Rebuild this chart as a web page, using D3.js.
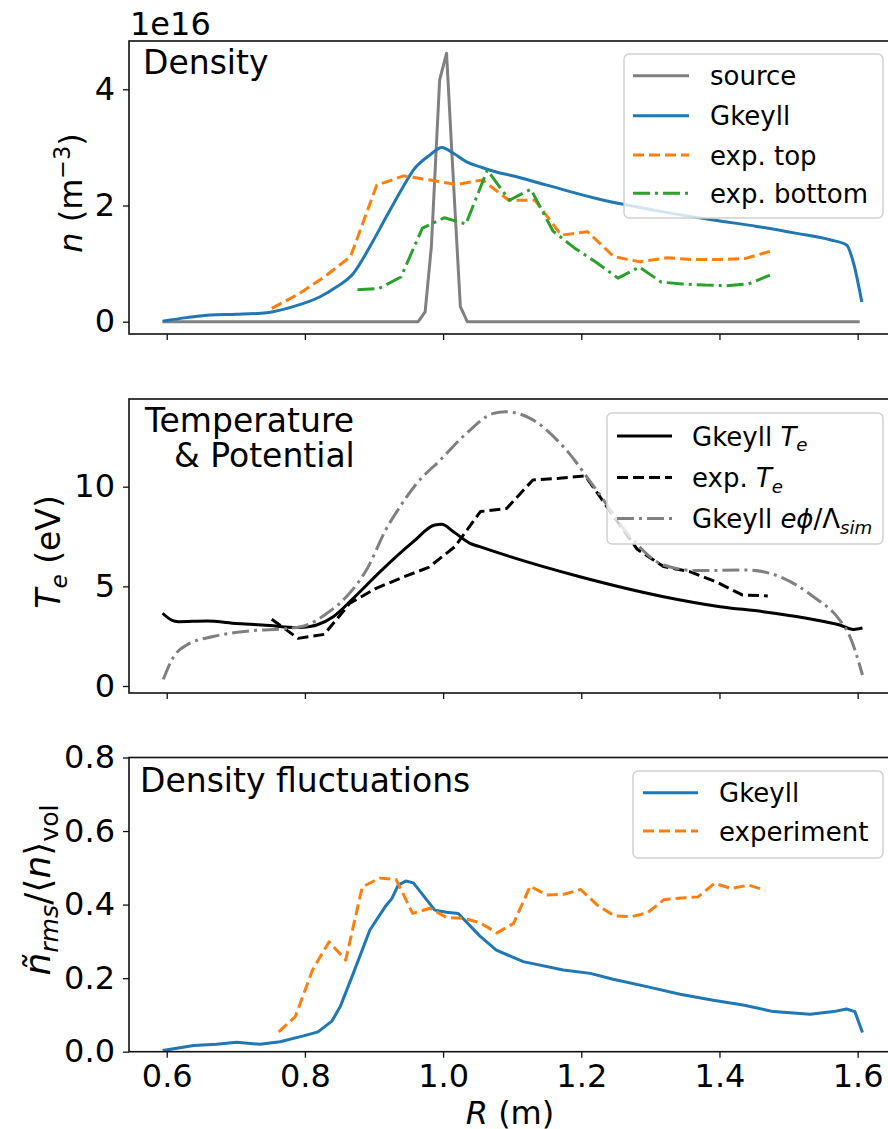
<!DOCTYPE html>
<html lang="en">
<head>
<meta charset="UTF-8">
<title>profiles</title>
<script src="https://d3js.org/d3.v7.min.js"></script>
<style>
    body { margin: 0; background: #fff; }
    svg { display: block; font-family: "DejaVu Sans", sans-serif; }
</style>
</head>
<body>
<div id="chart"></div>
<script>
// ---- data (R in m) ----
// panel 1: density, 1e16 m^-3
const srcR = [0.594, 0.964, 0.974, 0.983, 0.995, 1.005, 1.015, 1.025, 1.035, 1.603];
const srcN = [0, 0, 0.17, 1.29, 4.16, 4.62, 2.4, 0.26, 0, 0];

const gkDenR = [0.594, 0.629, 0.663, 0.701, 0.745, 0.783, 0.822, 0.846, 0.870, 0.894, 0.918, 0.942, 0.957, 0.981, 0.998, 1.015, 1.034, 1.055, 1.082, 1.097, 1.150, 1.222, 1.319, 1.391, 1.454, 1.512, 1.560, 1.584, 1.594, 1.606];
const gkDenN = [0.01, 0.07, 0.115, 0.127, 0.155, 0.26, 0.43, 0.60, 0.83, 1.29, 1.81, 2.32, 2.61, 2.87, 3.0, 2.90, 2.75, 2.66, 2.56, 2.52, 2.35, 2.12, 1.89, 1.75, 1.64, 1.52, 1.41, 1.32, 1.01, 0.34];

const topR = [0.752, 0.790, 0.828, 0.866, 0.904, 0.943, 0.981, 1.019, 1.057, 1.095, 1.133, 1.171, 1.209, 1.247, 1.285, 1.324, 1.362, 1.400, 1.438, 1.476];
const topN = [0.23, 0.47, 0.77, 1.12, 2.35, 2.51, 2.44, 2.36, 2.44, 2.09, 2.09, 1.49, 1.55, 1.12, 1.03, 1.10, 1.07, 1.07, 1.09, 1.22];

const botR = [0.876, 0.907, 0.939, 0.970, 1.002, 1.033, 1.064, 1.096, 1.127, 1.159, 1.190, 1.222, 1.253, 1.284, 1.316, 1.347, 1.379, 1.410, 1.442, 1.473];
const botN = [0.55, 0.57, 0.77, 1.61, 1.79, 1.68, 2.61, 2.09, 2.28, 1.56, 1.27, 1.02, 0.75, 0.94, 0.68, 0.65, 0.63, 0.62, 0.65, 0.80];

// panel 2: temperature (eV) and potential
const gkTeR = [0.594, 0.607, 0.617, 0.658, 0.701, 0.749, 0.788, 0.798, 0.817, 0.841, 0.870, 0.909, 0.957, 0.988, 0.998, 1.015, 1.039, 1.053, 1.097, 1.198, 1.319, 1.401, 1.463, 1.526, 1.574, 1.594, 1.607];
const gkTe  = [3.65, 3.31, 3.23, 3.26, 3.14, 3.03, 2.93, 2.95, 3.06, 3.48, 4.40, 5.74, 7.24, 8.08, 8.11, 7.74, 7.16, 6.99, 6.49, 5.48, 4.48, 3.98, 3.73, 3.40, 3.06, 2.84, 2.91];

const expTeR = [0.752, 0.790, 0.828, 0.865, 0.903, 0.941, 0.979, 1.017, 1.054, 1.092, 1.130, 1.168, 1.206, 1.243, 1.281, 1.319, 1.357, 1.395, 1.433, 1.470];
const expTe  = [3.35, 2.39, 2.59, 4.15, 4.9, 5.45, 5.95, 6.99, 8.75, 8.91, 10.34, 10.42, 10.54, 8.7, 6.86, 5.99, 5.74, 5.23, 4.57, 4.52];

const phiR = [0.595, 0.610, 0.629, 0.667, 0.725, 0.774, 0.803, 0.832, 0.860, 0.889, 0.918, 0.933, 0.962, 0.996, 1.034, 1.073, 1.090, 1.126, 1.174, 1.222, 1.271, 1.319, 1.367, 1.439, 1.487, 1.536, 1.574, 1.589, 1.607];
const phiV = [0.33, 1.47, 2.06, 2.48, 2.78, 2.88, 3.06, 3.65, 4.48, 5.82, 7.9, 8.75, 10.17, 11.34, 12.68, 13.68, 13.76, 13.43, 12.01, 9.83, 7.49, 6.07, 5.79, 5.82, 5.49, 4.48, 3.31, 2.47, 0.55];

// panel 3: density fluctuations
const gkFlR = [0.594, 0.639, 0.672, 0.701, 0.735, 0.764, 0.798, 0.819, 0.839, 0.851, 0.870, 0.894, 0.916, 0.926, 0.935, 0.946, 0.957, 0.988, 1.005, 1.022, 1.053, 1.077, 1.116, 1.174, 1.213, 1.246, 1.295, 1.343, 1.391, 1.434, 1.478, 1.531, 1.565, 1.584, 1.596, 1.607];
const gkFl  = [0.003, 0.017, 0.020, 0.026, 0.020, 0.027, 0.043, 0.054, 0.083, 0.122, 0.213, 0.331, 0.394, 0.417, 0.453, 0.464, 0.459, 0.385, 0.379, 0.376, 0.315, 0.276, 0.245, 0.222, 0.213, 0.197, 0.177, 0.156, 0.140, 0.127, 0.109, 0.102, 0.109, 0.116, 0.109, 0.052];

const expFlR = [0.762, 0.786, 0.811, 0.835, 0.859, 0.883, 0.908, 0.932, 0.956, 0.981, 1.005, 1.029, 1.053, 1.078, 1.102, 1.126, 1.150, 1.175, 1.199, 1.223, 1.248, 1.272, 1.296, 1.320, 1.345, 1.369, 1.393, 1.417, 1.442, 1.466];
const expFl  = [0.054, 0.095, 0.222, 0.299, 0.249, 0.448, 0.472, 0.468, 0.376, 0.390, 0.365, 0.363, 0.351, 0.323, 0.349, 0.450, 0.426, 0.428, 0.441, 0.399, 0.369, 0.367, 0.378, 0.414, 0.418, 0.421, 0.458, 0.444, 0.453, 0.439];

const xTicks = [0.6, 0.8, 1.0, 1.2, 1.4, 1.6];
const denTicks = [0, 2, 4];
const teTicks = [0, 5, 10];
const flTicks = [0.0, 0.2, 0.4, 0.6, 0.8];

// ---- layout ----
const W = 888, H = 1129;
const FS = 32;
const svg = d3.select("#chart").append("svg")
    .attr("width", W).attr("height", H);

const x = d3.scaleLinear().domain([0.5454, 1.6555]).range([129, 896]);

const zip = (a, b) => a.map((v, i) => [v, b[i]]);

// rich text: segments {t, it, sh} where sh = 'sub' | 'sup'
function rich(textSel, segs, fs) {
    let cur = 0;
    segs.forEach(s => {
        const shift = s.sh === "sub" ? fs * 0.22 : s.sh === "sup" ? -fs * 0.38 : 0;
        const t = textSel.append("tspan").text(s.t);
        if (shift !== cur) t.attr("dy", shift - cur);
        cur = shift;
        if (s.it) t.style("font-style", "italic");
        if (s.sh) t.style("font-size", (fs * 0.7) + "px");
    });
}

function panel(cfg) {
    const g = svg.append("g");
    const y = d3.scaleLinear().domain(cfg.yDomain).range([cfg.bottom, cfg.top]);

    g.append("defs").append("clipPath").attr("id", cfg.id)
        .append("rect").attr("x", 129).attr("y", cfg.top)
        .attr("width", 767).attr("height", cfg.bottom - cfg.top);

    const lines = g.append("g").attr("clip-path", `url(#${cfg.id})`);
    cfg.series.forEach(s => {
        const line = d3.line().x(d => x(d[0])).y(d => y(d[1]))
            .curve(s.smooth ? d3.curveMonotoneX : d3.curveLinear);
        lines.append("path")
            .attr("d", line(zip(s.r, s.v)))
            .attr("fill", "none")
            .attr("stroke", s.color)
            .attr("stroke-width", 3)
            .attr("stroke-dasharray", s.dash || null)
            .attr("stroke-linejoin", "round");
    });

    // frame
    g.append("rect")
        .attr("x", 129).attr("y", cfg.top)
        .attr("width", 767).attr("height", cfg.bottom - cfg.top)
        .attr("fill", "none").attr("stroke", "#111").attr("stroke-width", 1.6);

    const ya = g.append("g").attr("transform", "translate(129,0)")
        .call(d3.axisLeft(y).tickValues(cfg.yTicks).tickFormat(cfg.yFmt).tickSize(6).tickPadding(8));
    const xa = g.append("g").attr("transform", `translate(0,${cfg.bottom})`)
        .call(d3.axisBottom(x).tickValues(xTicks)
            .tickFormat(cfg.xLabels ? d3.format(".1f") : "").tickSize(6).tickPadding(7));
    [ya, xa].forEach(a => {
        a.select(".domain").remove();
        a.selectAll("line").attr("stroke", "#111").attr("stroke-width", 1.3);
        a.selectAll("text").attr("fill", "#000")
            .style("font-size", FS + "px").style("font-family", "DejaVu Sans");
    });

    // title (one text, one tspan per line)
    const tt = g.append("text").style("font-size", "33px");
    cfg.titles.forEach(t => {
        tt.append("tspan").attr("x", t.x).attr("y", t.y).text(t.text);
    });

    // y label
    const yl = g.append("text")
        .attr("transform", `translate(${cfg.yLabelX},${cfg.yLabelY}) rotate(-90)`)
        .attr("text-anchor", "middle")
        .style("font-size", cfg.yLabelFs + "px");
    rich(yl, cfg.yLabel, cfg.yLabelFs);

    // legend
    const L = cfg.legend;
    const lg = g.append("g");
    lg.append("rect")
        .attr("x", L.x).attr("y", L.y).attr("width", L.w).attr("height", L.h)
        .attr("rx", 5).attr("fill", "#fff").attr("fill-opacity", 0.8)
        .attr("stroke", "#d0d0d0").attr("stroke-width", 1.5);
    L.rows.forEach((row, i) => {
        const s = cfg.series[row.series];
        const ry = L.rowY[i];
        lg.append("line")
            .attr("x1", L.x1).attr("x2", L.x2).attr("y1", ry).attr("y2", ry)
            .attr("stroke", s.color).attr("stroke-width", 3)
            .attr("stroke-dasharray", s.dash || null);
        const t = lg.append("text").attr("x", L.tx).attr("y", ry + 9.5)
            .style("font-size", "26px");
        rich(t, row.label, 26);
    });
    return g;
}

const grayC = "#808080", blue = "#1f77b4", orange = "#ff7f0e", green = "#2ca02c";
const dashed = "11,5", dashDot = "17,5,3,5";

// Panel 1
panel({
    id: "c1", top: 41, bottom: 334, yDomain: [-0.2117, 4.831],
    yTicks: denTicks, yFmt: d3.format("d"), xLabels: false,
    series: [
        { r: srcR, v: srcN, color: grayC },
        { r: gkDenR, v: gkDenN, color: blue, smooth: true },
        { r: topR, v: topN, color: orange, dash: dashed },
        { r: botR, v: botN, color: green, dash: dashDot }
    ],
    titles: [{ x: 143, y: 74, text: "Density" }],
    yLabel: [{ t: "n", it: true }, { t: " (m" }, { t: "\u22123", sh: "sup" }, { t: ")" }],
    yLabelX: 82, yLabelY: 193, yLabelFs: 32,
    legend: {
        x: 624, y: 54, w: 259, h: 164, x1: 633, x2: 689, tx: 710,
        rowY: [75.7, 115.7, 155, 193.3],
        rows: [
            { series: 0, label: [{ t: "source" }] },
            { series: 1, label: [{ t: "Gkeyll" }] },
            { series: 2, label: [{ t: "exp. top" }] },
            { series: 3, label: [{ t: "exp. bottom" }] }
        ]
    }
});

// Panel 2
panel({
    id: "c2", top: 399, bottom: 693, yDomain: [-0.351, 14.40],
    yTicks: teTicks, yFmt: d3.format("d"), xLabels: false,
    series: [
        { r: gkTeR, v: gkTe, color: "#000", smooth: true },
        { r: expTeR, v: expTe, color: "#000", dash: dashed },
        { r: phiR, v: phiV, color: grayC, dash: dashDot, smooth: true }
    ],
    titles: [{ x: 145, y: 432, text: "Temperature" }, { x: 174, y: 467, text: "& Potential" }],
    yLabel: [{ t: "T", it: true }, { t: "e", it: true, sh: "sub" }, { t: " (eV)" }],
    yLabelX: 60, yLabelY: 552, yLabelFs: 33,
    legend: {
        x: 607, y: 413, w: 276, h: 131, x1: 617, x2: 672, tx: 692,
        rowY: [436, 477.5, 518.5],
        rows: [
            { series: 0, label: [{ t: "Gkeyll " }, { t: "T", it: true }, { t: "e", it: true, sh: "sub" }] },
            { series: 1, label: [{ t: "exp. " }, { t: "T", it: true }, { t: "e", it: true, sh: "sub" }] },
            { series: 2, label: [{ t: "Gkeyll " }, { t: "e\u03d5", it: true }, { t: "/\u039b" }, { t: "sim", it: true, sh: "sub" }] }
        ]
    }
});

// Panel 3
panel({
    id: "c3", top: 757.5, bottom: 1051.7, yDomain: [0, 0.8],
    yTicks: flTicks, yFmt: d3.format(".1f"), xLabels: true,
    series: [
        { r: gkFlR, v: gkFl, color: blue },
        { r: expFlR, v: expFl, color: orange, dash: dashed }
    ],
    titles: [{ x: 140, y: 792, text: "Density fluctuations" }],
    yLabel: [{ t: "\u00f1", it: true }, { t: "rms", it: true, sh: "sub" }, { t: "/\u27e8" },
             { t: "n", it: true }, { t: "\u27e9" }, { t: "vol", sh: "sub" }],
    yLabelX: 50, yLabelY: 890, yLabelFs: 36,
    legend: {
        x: 633, y: 771, w: 250, h: 87, x1: 643, x2: 698, tx: 719,
        rowY: [792.7, 831],
        rows: [
            { series: 0, label: [{ t: "Gkeyll" }] },
            { series: 1, label: [{ t: "experiment" }] }
        ]
    }
});

// offset text and x label
svg.append("text").attr("x", 130).attr("y", 35)
    .style("font-size", FS + "px").text("1e16");

const xl = svg.append("text").attr("x", 510).attr("y", 1124)
    .attr("text-anchor", "middle").style("font-size", FS + "px");
rich(xl, [{ t: "R", it: true }, { t: " (m)" }], FS);
</script>
</body>
</html>
